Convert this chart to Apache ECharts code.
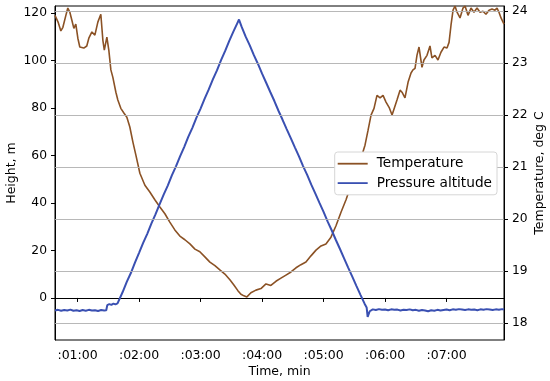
<!DOCTYPE html>
<html><head><meta charset="utf-8">
<script src="https://cdn.jsdelivr.net/npm/echarts@6/dist/echarts.min.js"></script>
<style>html,body{margin:0;padding:0;background:#fff}#c{width:550px;height:381px}</style>
</head><body><div id="c"></div>
<script>
// Time in seconds
const tempTime = [38,41,43.7,45.7,48.6,50.5,52.5,54.4,56.4,58.3,60.3,62.2,66.1,69,71,74,76.9,79.8,82.7,84.7,86.1,88.6,90.5,92.5,94.4,97.4,99.3,102.2,105.2,108.1,111,114,116.9,120.8,125.7,130.5,135.4,140.3,145.2,150,154.9,159.8,164.7,169.6,174.5,179.3,184.2,189.1,194,198.8,203.7,208.6,212.5,216.4,219.4,222.3,225.2,229.1,234,238.9,243.8,248.6,253.5,258.4,263.3,268.2,273.1,277.9,282.8,287.7,292.6,297.5,302.3,307.2,312.1,317,321.9,326.7,331.6,336.5,340.4,343.4,346.3,349.2,352.1,355.1,358,360.9,363.9,366.8,368.7,371.6,374.6,376.5,379.4,382.4,385.3,387.2,389.2,391.1,393.1,396,397.9,400.9,403.8,405.7,408.7,411.6,414.5,417.5,420.4,422.4,424.3,426.3,428.2,430.2,433.1,436,438,440.9,443.8,446.7,449.7,452.6,455.5,458.4,461.4,464.3,467.2,469.2,471.1,473.1,476];
const tempValue = [23.92,23.79,23.62,23.69,23.92,24.06,23.98,23.83,23.67,23.75,23.48,23.31,23.29,23.33,23.48,23.60,23.54,23.79,23.94,23.44,23.25,23.50,23.25,22.87,22.73,22.44,22.29,22.13,22.04,21.96,21.77,21.48,21.23,20.88,20.65,20.52,20.37,20.23,20.10,19.94,19.79,19.67,19.60,19.52,19.42,19.37,19.27,19.17,19.10,19.02,18.94,18.83,18.73,18.62,18.55,18.52,18.50,18.58,18.63,18.66,18.75,18.72,18.80,18.86,18.92,18.98,19.06,19.12,19.17,19.29,19.40,19.48,19.52,19.65,19.87,20.13,20.37,20.65,20.90,21.17,21.42,21.71,22.00,22.13,22.38,22.33,22.38,22.25,22.15,22.00,22.02,22.29,22.48,22.44,22.33,22.63,22.81,22.87,22.90,23.15,23.31,22.92,23.06,23.15,23.33,23.10,23.15,23.06,23.21,23.31,23.29,23.40,23.73,24.02,24.10,23.98,23.87,24.06,24.10,23.92,24.06,23.98,24.06,23.98,24.00,23.94,24.02,24.04,24.02,24.06,23.98,23.87,23.75,23.83,23.88];

const altTime = [38,41,44,47,50,53,56,59,62,65,68,71,74,77,80,83,86,88,89,91,93,95,97,99,100,104,108,112,116,120,124,128,132,136,140,144,148,152,156,160,164,168,172,176,180,184,188,192,196,200,204,208,212,216,217.5,220,224,228,232,236,240,244,248,252,256,260,264,268,272,276,280,284,288,292,296,300,304,308,312,316,320,324,328,332,336,340,342,343,345,348,351,354,357,360,363,366,369,372,375,378,381,384,387,390,393,396,399,402,405,408,411,414,417,420,423,426,429,432,435,438,441,444,447,450,453,456,459,462,465,468,471,474,476];
const altValue = [-5.3,-5.0,-5.4,-5.1,-5.3,-4.9,-5.4,-5.2,-5.5,-5.1,-5.4,-5.0,-5.3,-5.2,-5.5,-5.1,-5.3,-5.2,-3.0,-2.6,-2.9,-2.4,-2.7,-2.3,-2.0,2.5,6.8,10.5,14.9,19.0,23.2,27.0,31.3,35.2,39.4,43.5,47.3,51.6,55.4,59.6,63.5,67.8,71.6,75.9,79.7,83.9,87.8,92.0,95.8,100.1,104.0,108.2,112.1,115.8,117.2,114.2,110.0,106.3,102.2,98.5,94.4,90.6,86.7,82.9,78.8,75.0,71.1,67.3,63.4,59.6,55.5,51.8,47.7,43.9,40.0,36.2,32.1,28.4,24.4,20.6,16.7,12.8,9.0,5.1,1.3,-2.4,-4.0,-8.0,-5.6,-4.8,-5.1,-4.7,-5.0,-4.9,-5.2,-4.8,-5.0,-4.9,-5.3,-5.0,-5.1,-4.8,-5.2,-5.0,-5.4,-5.1,-5.3,-5.6,-5.2,-5.4,-5.0,-5.3,-5.1,-4.9,-5.2,-4.8,-5.0,-4.7,-4.9,-5.1,-4.8,-5.0,-4.9,-5.2,-4.8,-5.0,-4.7,-4.9,-5.1,-4.8,-5.0,-4.7,-4.9];

const xTicks = [60,120,180,240,300,360,420];
const leftTicks = [0,20,40,60,80,100,120];
const rightTicks = [18,19,20,21,22,23,24];
const xTitle = 'Time, min';
const leftTitle = 'Height, m';
const rightTitle = 'Temperature, deg C';

const zip = (a,b)=>a.map((v,i)=>[v,b[i]]);
const font = 'DejaVu Sans';
const brown = '#8b5225';
const blue = '#3a50b2';
const titleStyle = {fontFamily:font,fontSize:12.5,fill:'#000',textAlign:'center',textVerticalAlign:'middle'};
const chart = echarts.init(document.getElementById('c'));
chart.setOption({
  animation:false,
  textStyle:{fontFamily:font},
  grid:{left:55,right:46,top:6,bottom:41,show:true,borderColor:'#000',borderWidth:1,backgroundColor:'transparent',
    containLabel:false, outerBoundsMode:'none'},
  graphic:[
    {type:'text',x:279.5,y:372,style:Object.assign({text:xTitle},titleStyle)},
    {type:'text',x:12,y:173,rotation:Math.PI/2,style:Object.assign({text:leftTitle},titleStyle)},
    {type:'text',x:540,y:173,rotation:Math.PI/2,style:Object.assign({text:rightTitle},titleStyle)}
  ],
  legend:{
    right:53, top:152, orient:'vertical', itemWidth:30, itemHeight:1.8, itemGap:0, z:20,
    backgroundColor:'#fff', borderColor:'#d6d6d6', borderWidth:1, borderRadius:3, padding:[2,5,2,3],
    textStyle:{fontFamily:font,fontSize:13.7,color:'#000',lineHeight:19.4,padding:[0,0,0,4]},
    icon:'rect',
    data:[
      {name:'Temperature',itemStyle:{color:brown}},
      {name:'Pressure altitude',itemStyle:{color:blue}}
    ]
  },
  xAxis:{
    type:'value', min:38, max:476,
    axisLine:{show:true,lineStyle:{color:'#000',width:1}},
    axisTick:{show:true,length:4,lineStyle:{color:'#000'},customValues:xTicks},
    axisLabel:{customValues:xTicks,color:'#000',fontFamily:font,fontSize:12.5,margin:9,
      formatter:v=>':0'+Math.round(v/60)+':00'},
    splitLine:{show:false}
  },
  yAxis:[{
    type:'value', min:-17.7, max:122.9, position:'left',
    axisLine:{show:true,lineStyle:{color:'#000'}},
    axisTick:{show:true,length:4,lineStyle:{color:'#000'},customValues:leftTicks},
    axisLabel:{customValues:leftTicks,color:'#000',fontFamily:font,fontSize:12.3,margin:8},
    splitLine:{show:false}
  },{
    type:'value', min:17.67, max:24.1, position:'right',
    axisLine:{show:true,lineStyle:{color:'#000'}},
    axisTick:{show:true,length:4,lineStyle:{color:'#000'},customValues:rightTicks},
    axisLabel:{customValues:rightTicks,color:'#000',fontFamily:font,fontSize:12.3,margin:8},
    splitLine:{show:false}
  }],
  series:[{
    name:'grid', type:'line', yAxisIndex:1, data:[], z:1, silent:true,
    markLine:{silent:true,symbol:'none',label:{show:false},animation:false,
      lineStyle:{color:'#b0b0b0',width:0.9,type:'solid'},
      data:rightTicks.map(v=>({yAxis:v}))}
  },{
    name:'Temperature', type:'line', yAxisIndex:1, showSymbol:false, symbol:'none',
    data:zip(tempTime,tempValue), lineStyle:{color:brown,width:1.6}, itemStyle:{color:brown},
    z:2
  },{
    name:'Pressure altitude', type:'line', yAxisIndex:0, showSymbol:false, symbol:'none',
    data:zip(altTime,altValue), lineStyle:{color:blue,width:2}, itemStyle:{color:blue},
    z:3
  }]
});
</script></body></html>
